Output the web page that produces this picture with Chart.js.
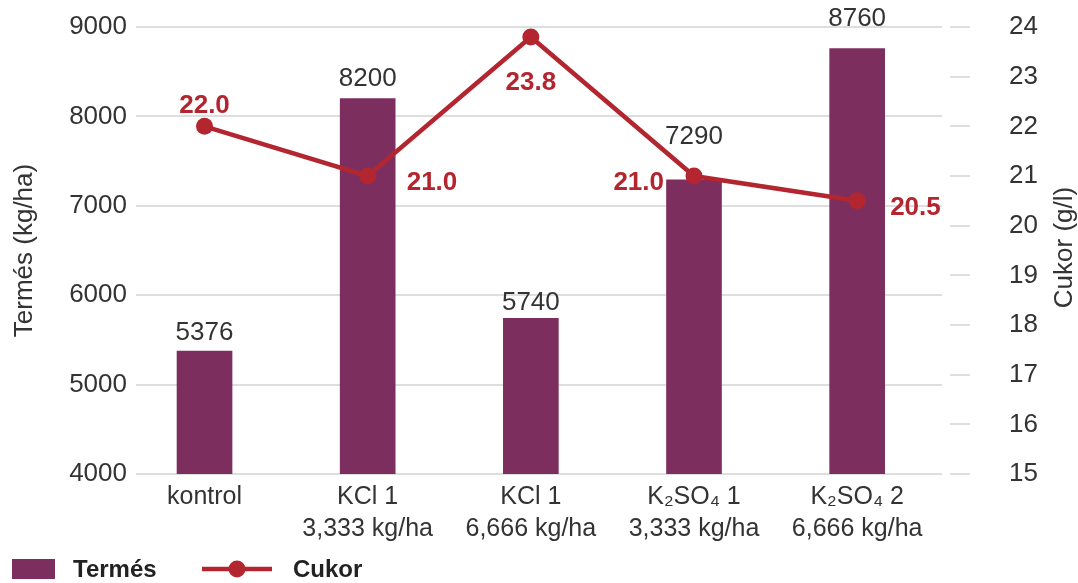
<!DOCTYPE html>
<html>
<head>
<meta charset="utf-8">
<script src="https://cdn.jsdelivr.net/npm/chart.js@4.4.1/dist/chart.umd.min.js"></script>
<style>
  html, body { margin: 0; padding: 0; background: #fff; }
  canvas { display: block; }
</style>
</head>
<body>
<canvas id="chart" width="1078" height="583"></canvas>
<script>
// Treatments (multi-line labels) and measured values
const categories = [
  'kontrol',
  ['KCl 1', '3,333 kg/ha'],
  ['KCl 1', '6,666 kg/ha'],
  ['K₂SO₄ 1', '3,333 kg/ha'],
  ['K₂SO₄ 2', '6,666 kg/ha']
];
const yieldKgHa = [5376, 8200, 5740, 7290, 8760];
const sugarGL = [22.0, 21.0, 23.8, 21.0, 20.5];

// Axis tick values
const yieldTicks = [4000, 5000, 6000, 7000, 8000, 9000];
const sugarTicks = [15, 16, 17, 18, 19, 20, 21, 22, 23, 24];

// Label styling / placement
const barLabelLift = [18, 20, 16, 43, 30];
const sugarLabelPlace = [
  { dx: 0, dy: -21, align: 'center' },
  { dx: 39, dy: 7, align: 'left' },
  { dx: 0, dy: 46, align: 'center' },
  { dx: -30, dy: 7, align: 'right' },
  { dx: 33, dy: 7, align: 'left' }
];

const BAR_COLOR = '#7c2f5f';
const LINE_COLOR = '#b3262f';
const TEXT_COLOR = '#333333';
const GRID_COLOR = '#dedede';
const FONT = "'Liberation Sans', Arial, Helvetica, sans-serif";

const labelsPlugin = {
  id: 'valueLabels',
  afterDatasetsDraw(chart) {
    const ctx = chart.ctx;
    ctx.save();
    // bar values
    ctx.font = `26px ${FONT}`;
    ctx.fillStyle = TEXT_COLOR;
    ctx.textAlign = 'center';
    ctx.textBaseline = 'middle';
    chart.getDatasetMeta(1).data.forEach((el, i) => {
      ctx.fillText(String(yieldKgHa[i]), el.x, el.y - barLabelLift[i]);
    });
    // sugar values
    ctx.font = `bold 26px ${FONT}`;
    ctx.fillStyle = LINE_COLOR;
    chart.getDatasetMeta(0).data.forEach((el, i) => {
      const p = sugarLabelPlace[i];
      ctx.textAlign = p.align;
      ctx.fillText(sugarGL[i].toFixed(1), el.x + p.dx, el.y + p.dy);
    });
    ctx.restore();
  },
  afterDraw(chart) {
    const ctx = chart.ctx;
    const area = chart.chartArea;
    const y1 = chart.scales.y1;
    ctx.save();
    // short tick dashes for the sugar axis
    ctx.strokeStyle = GRID_COLOR;
    ctx.lineWidth = 2;
    y1.ticks.forEach((t, i) => {
      const y = Math.round(y1.getPixelForTick(i));
      ctx.beginPath();
      ctx.moveTo(area.right + 8, y);
      ctx.lineTo(area.right + 28, y);
      ctx.stroke();
    });
    // sugar axis title, reading bottom to top
    ctx.fillStyle = TEXT_COLOR;
    ctx.font = `26px ${FONT}`;
    ctx.textAlign = 'center';
    ctx.textBaseline = 'middle';
    ctx.translate(1065, (area.top + area.bottom) / 2 - 3);
    ctx.rotate(-Math.PI / 2);
    ctx.fillText('Cukor (g/l)', 0, 0);
    ctx.restore();

    // legend
    ctx.save();
    const ly = 569;
    ctx.fillStyle = BAR_COLOR;
    ctx.fillRect(12, ly - 10, 43, 20);
    ctx.font = `bold 24px ${FONT}`;
    ctx.fillStyle = '#222222';
    ctx.textAlign = 'left';
    ctx.textBaseline = 'middle';
    ctx.fillText('Termés', 73, ly + 1);
    ctx.strokeStyle = LINE_COLOR;
    ctx.lineWidth = 4.5;
    ctx.beginPath();
    ctx.moveTo(202, ly);
    ctx.lineTo(272, ly);
    ctx.stroke();
    ctx.fillStyle = LINE_COLOR;
    ctx.beginPath();
    ctx.arc(237, ly, 8.5, 0, Math.PI * 2);
    ctx.fill();
    ctx.fillStyle = '#222222';
    ctx.fillText('Cukor', 293, ly + 1);
    ctx.restore();
  }
};

new Chart(document.getElementById('chart'), {
  data: {
    datasets: [
      {
        type: 'line',
        label: 'Cukor',
        data: sugarGL.map((v, i) => ({ x: i, y: v })),
        yAxisID: 'y1',
        borderColor: LINE_COLOR,
        backgroundColor: LINE_COLOR,
        borderWidth: 4.5,
        tension: 0,
        pointRadius: 8.5,
        pointBorderWidth: 0,
        pointBackgroundColor: LINE_COLOR,
        order: 0
      },
      {
        type: 'bar',
        label: 'Termés',
        data: yieldKgHa.map((v, i) => ({ x: i, y: v })),
        yAxisID: 'y',
        backgroundColor: BAR_COLOR,
        barThickness: 55,
        order: 1
      }
    ]
  },
  options: {
    responsive: false,
    animation: false,
    layout: { padding: { top: 27, left: 0, right: 0, bottom: 0 } },
    plugins: {
      legend: { display: false },
      tooltip: { enabled: false }
    },
    scales: {
      x: {
        type: 'linear',
        min: -0.42,
        max: 4.52,
        offset: false,
        grid: { display: false, drawTicks: false },
        border: { display: false },
        afterBuildTicks: s => { s.ticks = categories.map((c, i) => ({ value: i })); },
        afterFit: s => { s.height = 109; },
        ticks: {
          autoSkip: false,
          maxRotation: 0,
          padding: 7,
          color: TEXT_COLOR,
          font: { family: FONT, size: 25, lineHeight: 1.28 },
          callback: v => categories[v]
        }
      },
      y: {
        position: 'left',
        min: 4000,
        max: 9000,
        afterBuildTicks: s => { s.ticks = yieldTicks.map(v => ({ value: v })); },
        afterFit: s => { s.width = 136; },
        grid: { color: GRID_COLOR, lineWidth: 2, drawTicks: false },
        border: { display: false },
        ticks: {
          padding: 9,
          color: TEXT_COLOR,
          font: { family: FONT, size: 26 },
          callback: v => String(v)
        },
        title: {
          display: true,
          text: 'Termés (kg/ha)',
          color: TEXT_COLOR,
          font: { family: FONT, size: 26 },
          padding: { top: 9, bottom: 0 }
        }
      },
      y1: {
        position: 'right',
        min: 15,
        max: 24,
        afterBuildTicks: s => { s.ticks = sugarTicks.map(v => ({ value: v })); },
        afterFit: s => { s.width = 136; },
        grid: { drawOnChartArea: false, drawTicks: true, tickLength: 58, tickColor: 'rgba(0,0,0,0)' },
        border: { display: false },
        ticks: {
          padding: 9,
          color: TEXT_COLOR,
          font: { family: FONT, size: 26 },
          callback: v => String(v)
        }
      }
    }
  },
  plugins: [labelsPlugin]
});
</script>
</body>
</html>
